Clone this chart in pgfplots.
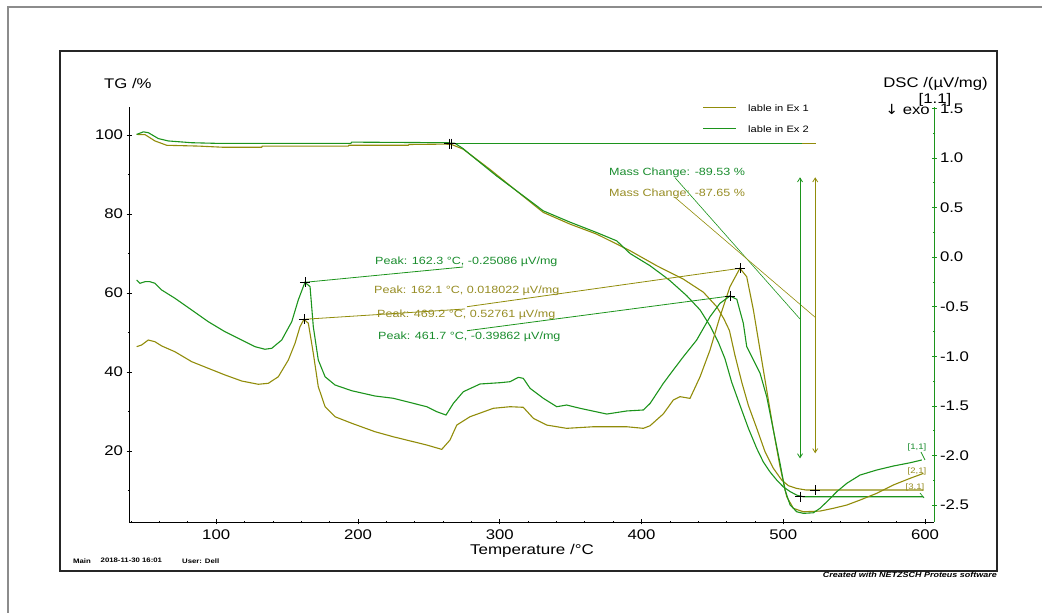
\documentclass[border=0pt]{standalone}
\usepackage{pgfplots}
\pgfplotsset{compat=1.18}
\usetikzlibrary{arrows.meta}
\usepackage{fontspec}
\setmainfont{Liberation Sans}[FakeStretch=1.2]
\newfontfamily\dejavu{DejaVu Sans}[FakeStretch=1.1]
\definecolor{cg}{RGB}{28,148,28}
\definecolor{co}{RGB}{145,140,10}
\definecolor{cgt}{RGB}{25,140,45}
\definecolor{cot}{RGB}{150,140,35}

\pgfplotstableread{
T TG
43.9 100.15
48.6 100.8
52.1 100.6
59.2 99.1
66.2 98.5
82.7 98.05
99.2 97.9
195.0 97.9
195.6 98.2
263.7 98.05
265.0 97.95
268.4 97.9
274.0 96.6
279.0 95.1
297.9 89.6
316.6 84.6
330.7 80.8
349.8 77.9
368.4 75.3
382.5 73.2
391.9 70.0
406.0 66.9
415.4 64.4
420.1 63.1
431.9 59.3
441.3 55.7
448.3 51.7
454.2 47.5
458.9 43.3
463.6 37.4
469.5 31.5
475.4 25.7
481.3 20.6
485.9 17.2
490.6 14.7
495.4 12.6
500.0 10.9
504.8 9.7
509.5 8.8
514.0 8.4
598.8 8.4
}\tggreen

\pgfplotstableread{
T TG
43.9 100.15
49.8 100.1
56.8 98.5
65.1 97.4
87.4 97.2
105.0 96.9
132.1 96.9
132.5 97.2
193.2 97.2
193.6 97.4
235.5 97.4
236.0 97.6
261.4 97.7
266.0 97.6
274.3 96.4
293.1 91.3
312.0 85.8
330.7 80.4
349.8 77.4
368.4 74.9
391.9 70.7
410.7 66.9
429.5 63.5
443.6 60.2
453.1 56.5
458.0 53.5
462.0 50.5
465.9 44.2
470.7 37.4
475.4 31.5
481.3 25.7
487.1 19.8
493.0 15.6
498.9 12.6
503.6 11.2
509.5 10.5
516.0 10.1
598.8 10.1
}\tgolive

\pgfplotstableread{
T DSC
43.9 -0.231
46.2 -0.264
49.8 -0.248
53.3 -0.248
56.8 -0.264
61.6 -0.332
70.9 -0.415
82.7 -0.533
94.4 -0.651
106.2 -0.752
118.0 -0.836
127.4 -0.903
134.4 -0.929
139.2 -0.919
146.2 -0.836
153.3 -0.651
157.9 -0.432
162.6 -0.254
166.2 -0.298
168.5 -0.702
172.0 -1.037
176.8 -1.206
183.8 -1.289
195.6 -1.347
212.0 -1.400
224.9 -1.423
248.5 -1.508
255.5 -1.558
262.1 -1.592
267.3 -1.474
274.3 -1.357
286.1 -1.279
300.2 -1.266
307.3 -1.256
313.1 -1.212
316.6 -1.222
321.4 -1.323
330.7 -1.423
340.2 -1.508
347.2 -1.491
356.6 -1.524
375.5 -1.582
389.6 -1.551
401.3 -1.541
406.1 -1.474
415.4 -1.272
422.4 -1.138
429.5 -1.004
438.9 -0.836
448.3 -0.601
455.3 -0.466
462.4 -0.392
467.2 -0.425
471.8 -0.667
474.2 -0.903
480.1 -1.071
483.6 -1.171
488.3 -1.407
493.0 -1.743
497.7 -2.079
501.2 -2.348
504.8 -2.499
509.5 -2.567
514.1 -2.583
521.2 -2.577
525.9 -2.532
530.7 -2.466
537.7 -2.365
544.8 -2.280
554.1 -2.197
565.9 -2.146
577.6 -2.106
589.4 -2.073
597.7 -2.045
}\dscgreen

\pgfplotstableread{
T DSC
43.9 -0.903
47.4 -0.886
52.1 -0.836
56.8 -0.853
61.6 -0.896
70.9 -0.954
82.7 -1.054
94.4 -1.121
106.2 -1.188
118.0 -1.249
129.7 -1.282
136.8 -1.272
143.8 -1.206
150.9 -1.037
155.6 -0.869
159.1 -0.702
161.9 -0.627
165.0 -0.667
168.5 -0.970
172.0 -1.306
176.8 -1.508
183.8 -1.609
195.6 -1.675
212.0 -1.760
224.9 -1.811
248.5 -1.894
259.1 -1.938
264.9 -1.844
269.7 -1.693
279.0 -1.609
295.5 -1.524
307.3 -1.508
316.6 -1.514
323.7 -1.625
333.1 -1.693
347.2 -1.726
366.0 -1.710
389.6 -1.710
401.3 -1.726
406.0 -1.700
415.4 -1.580
422.4 -1.441
427.2 -1.407
434.2 -1.424
441.3 -1.206
448.3 -0.937
455.3 -0.601
462.4 -0.298
469.4 -0.113
474.2 -0.198
478.9 -0.533
483.6 -0.937
488.3 -1.340
493.0 -1.743
497.7 -2.113
502.4 -2.415
507.1 -2.532
514.1 -2.567
525.9 -2.560
535.3 -2.532
544.8 -2.499
554.1 -2.449
565.9 -2.381
577.6 -2.297
589.4 -2.230
598.8 -2.180
}\dscolive

\pgfplotsset{
  common/.style={
    at={(129bp,91bp)}, anchor=south west, scale only axis,
    width=805bp, height=415bp,
    xmin=38.5, xmax=606.3,
    tick align=outside, major tick length=5bp, minor tick length=2.5bp,
    tick label style={font=\fontsize{14}{14}\selectfont},
    /pgf/number format/assume math mode=true,
    every outer x axis line/.append style={-},
    every outer y axis line/.append style={-},
    every inner x axis line/.append style={-},
    every inner y axis line/.append style={-},
  }
}

\begin{document}
\begin{tikzpicture}[x=1bp,y=1bp]
\path[use as bounding box] (0,0) rectangle (1042,613);
\draw[black!45, line width=1.5bp] (8,0) -- (8,606) -- (1042,606);
\draw[black!85, line width=1.2bp] (60,42) rectangle (997,562);

\begin{axis}[common,
  ymin=2, ymax=107.1,
  axis x line=bottom, axis y line=left,
  axis line style={-, black, line width=0.9bp},
  xtick={100,200,...,600}, minor xtick={40,60,...,600},
  ytick={20,40,...,100}, minor ytick={10,30,...,90},
  xticklabel style={yshift=-2bp},
  tick style={black, line width=0.7bp},
  clip=false,
]
\addplot[co, line width=1bp] coordinates {(265,97.85) (523.1,97.85)};
\addplot[cg, line width=1.2bp] coordinates {(265,97.85) (513.2,97.85)};
\addplot[co, line width=1.1bp] table[x=T,y=TG] {\tgolive};
\addplot[cg, line width=1.1bp] table[x=T,y=TG] {\tggreen};
\addplot[cg, line width=0.6bp] coordinates {(423.6,89.2) (511.8,53.4)};
\addplot[co, line width=0.6bp] coordinates {(423.6,84.2) (522.3,53.9)};
\addplot[cg, line width=0.8bp, {Straight Barb[length=4bp,width=5bp]}-{Straight Barb[length=4bp,width=5bp]}] coordinates {(511.8,89.3) (511.8,18.1)};
\addplot[co, line width=0.8bp, {Straight Barb[length=4bp,width=5bp]}-{Straight Barb[length=4bp,width=5bp]}] coordinates {(522.5,89.3) (522.5,19.4)};
\addplot[only marks, mark=+, mark size=5bp, black, mark options={line width=0.8bp}] coordinates {(264.4,97.85) (265.6,97.85) (511.8,8.4) (522.4,10.1)};
\end{axis}

\begin{axis}[common,
  ymin=-2.67, ymax=1.513,
  axis x line=none, axis y line=right,
  xtick=\empty,
  y axis line style={-, cg, line width=1bp},
  ytick={-2.5,-2,...,1.5}, minor ytick={-2.25,-1.75,...,1.25},
  ytick style={cg, line width=0.7bp},
  yticklabel style={/pgf/number format/.cd, fixed, fixed zerofill, precision=1},
  clip=false,
]
\addplot[co, line width=1.1bp] table[x=T,y=DSC] {\dscolive};
\addplot[cg, line width=1.1bp] table[x=T,y=DSC] {\dscgreen};
\addplot[cg, line width=0.8bp] coordinates {(162.6,-0.254) (274.1,-0.100)};
\addplot[co, line width=0.8bp] coordinates {(161.9,-0.627) (275.5,-0.523)};
\addplot[co, line width=0.8bp] coordinates {(469.4,-0.113) (276.9,-0.500)};
\addplot[cg, line width=0.8bp] coordinates {(462.4,-0.392) (276.9,-0.742)};
\addplot[only marks, mark=+, mark size=5bp, black, mark options={line width=0.8bp}] coordinates {(162.6,-0.254) (161.9,-0.627) (462.4,-0.392) (469.4,-0.113)};
\end{axis}

% axis titles
\node[anchor=west, inner sep=0, font=\fontsize{14}{14}\selectfont] at (104,529) {TG /\%};
\node[anchor=east, inner sep=0, font=\fontsize{14}{14}\selectfont] at (988,529) {DSC /(µV/mg)};
\node[anchor=center, inner sep=0, font=\fontsize{14}{14}\selectfont] at (935,513) {[1.1]};
\node[anchor=east, inner sep=0, font=\fontsize{14}{14}\selectfont] at (930,504) {{\dejavu ↓} exo};
\node[anchor=center, inner sep=0, font=\fontsize{14.2}{14}\selectfont] at (532,62) {Temperature /°C};

% legend
\draw[co, line width=1bp] (703,505.3) -- (736,505.3);
\draw[cg, line width=1bp] (703,484) -- (736,484);
\node[anchor=west, inner sep=0, font=\fontsize{9.3}{10}\selectfont] at (748,505.3) {lable in Ex 1};
\node[anchor=west, inner sep=0, font=\fontsize{9.3}{10}\selectfont] at (748,484) {lable in Ex 2};

% annotations
\node[anchor=west, inner sep=0, text=cgt, font=\fontsize{10.5}{11}\selectfont] at (609,440) {Mass Change: -89.53 \%};
\node[anchor=west, inner sep=0, text=cot, font=\fontsize{10.5}{11}\selectfont] at (609,419) {Mass Change: -87.65 \%};
\node[anchor=west, inner sep=0, text=cgt, font=\fontsize{10.5}{11}\selectfont] at (375,351.3) {Peak: 162.3 °C, -0.25086 µV/mg};
\node[anchor=west, inner sep=0, text=cot, font=\fontsize{10.5}{11}\selectfont] at (374,322.3) {Peak: 162.1 °C, 0.018022 µV/mg};
\node[anchor=west, inner sep=0, text=cot, font=\fontsize{10.5}{11}\selectfont] at (377,298) {Peak: 469.2 °C, 0.52761 µV/mg};
\node[anchor=west, inner sep=0, text=cgt, font=\fontsize{10.5}{11}\selectfont] at (378,275.7) {Peak: 461.7 °C, -0.39862 µV/mg};

% curve tags
\node[inner sep=0, text=cgt, font=\fontsize{8}{8}\selectfont] at (917,166) {[1,1]};
\node[inner sep=0, text=cot, font=\fontsize{8}{8}\selectfont] at (917,142) {[2,1]};
\node[inner sep=0, text=cot, font=\fontsize{8}{8}\selectfont] at (915,126) {[3,1]};
\draw[cg, line width=0.7bp] (921,161) -- (925,153);
\draw[cg, line width=0.7bp] (920,120) -- (924,115);

% footer
\node[anchor=west, inner sep=0, font=\bfseries\fontsize{6.5}{7}\selectfont] at (73,52.3) {Main};
\node[anchor=west, inner sep=0, font=\bfseries\fontsize{6.5}{7}\selectfont] at (100.5,52.3) {2018-11-30 16:01};
\node[anchor=west, inner sep=0, font=\bfseries\fontsize{6.5}{7}\selectfont] at (182,52.3) {User: Dell};
\node[anchor=east, inner sep=0, font=\bfseries\itshape\fontsize{7.5}{8}\selectfont] at (997,38) {Created with NETZSCH Proteus software};
\end{tikzpicture}
\end{document}
